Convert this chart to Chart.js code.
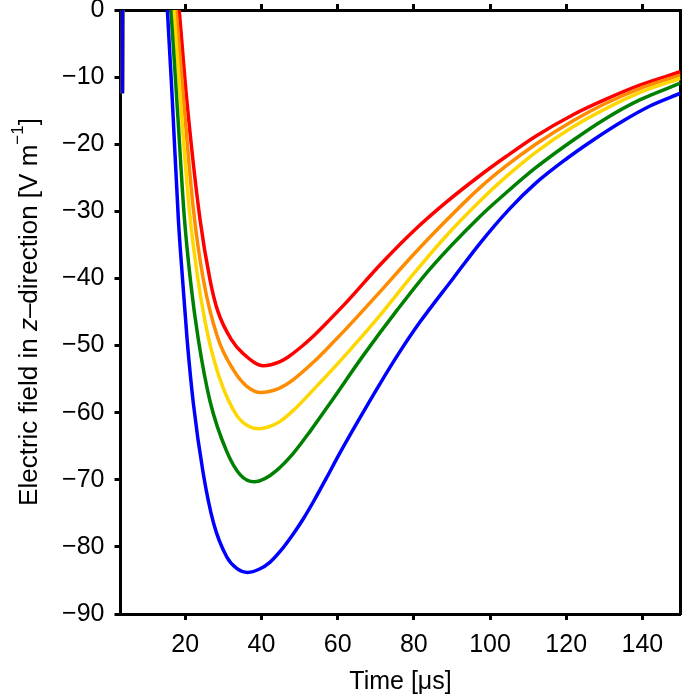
<!DOCTYPE html>
<html>
<head>
<meta charset="utf-8">
<script src="https://cdn.jsdelivr.net/npm/chart.js@4/dist/chart.umd.min.js"></script>
<style>
  html, body { margin: 0; padding: 0; background: #fff; }
  #wrap { width: 682px; height: 700px; }
</style>
</head>
<body>
<div id="wrap"><canvas id="fieldChart"></canvas></div>
<script>
const xTicks = [20, 40, 60, 80, 100, 120, 140];
const yTicks = [0, -10, -20, -30, -40, -50, -60, -70, -80, -90];

// time [us] and field [V/m]
const blueX = [3.5, 3.6, 14.9, 15.3, 16.6, 18.2, 19.3, 20.5, 22.1, 24.7, 27.4, 30.9, 33.5, 36.4, 39.5, 42.2, 45, 48.3, 51, 54, 57, 60.6, 65, 71.1, 76, 81.6, 90.3, 97.3, 105, 112, 120, 127, 135, 142, 150];
const blueY = [-12.4, 6, 3, 0, -13.4, -31.3, -40.2, -49.2, -58.5, -69.0, -76.4, -81.5, -83.2, -83.8, -83.3, -82.3, -80.6, -78.1, -75.8, -72.9, -69.8, -66.0, -61.6, -55.7, -51.2, -46.5, -40.0, -34.8, -29.7, -25.8, -22.2, -19.4, -16.5, -14.3, -12.4];

const greenX = [3.5, 3.6, 15.7, 16.2, 17.9, 19.7, 21.4, 23.4, 26.5, 30.9, 34.5, 38.1, 41, 44, 48.3, 53, 58, 66.7, 75.5, 84.2, 97.3, 104.3, 112, 121.8, 130, 139.3, 150];
const greenY = [-12.4, 6, 3, 0, -14.5, -30.5, -40.5, -49.0, -58.3, -65.8, -69.3, -70.3, -69.8, -68.6, -66.1, -62.6, -58.6, -51.5, -44.8, -38.6, -30.8, -27.2, -23.5, -19.4, -16.3, -13.4, -10.9];

const yellowX = [3.5, 3.6, 16.5, 17.0, 18.8, 21.1, 23.3, 26.0, 29.1, 33.5, 36.5, 39.2, 42, 44.9, 48.3, 53.6, 62.4, 71.1, 79.8, 88.6, 97.3, 104.3, 112, 121.8, 130, 139.3, 150];
const yellowY = [-12.4, 6, 3, 0, -14.0, -30.0, -40.0, -48.6, -55.0, -60.4, -62.0, -62.4, -62.1, -61.3, -59.7, -56.6, -51.2, -45.5, -39.4, -33.6, -28.5, -24.8, -21.2, -17.4, -14.8, -12.3, -10.2];

const orangeX = [3.5, 3.6, 17.1, 17.6, 19.5, 22.1, 24.7, 28.5, 32.6, 36, 39.9, 42, 44.9, 48.3, 53.6, 58, 62.4, 71.1, 79.8, 88.6, 97.3, 104.3, 112, 121.8, 130, 139.3, 150];
const orangeY = [-12.4, 6, 3, 0, -13.0, -29.5, -40.0, -48.8, -53.6, -56.0, -57.0, -56.85, -56.3, -55.1, -52.5, -50.0, -47.4, -42.0, -36.5, -31.3, -26.5, -23.2, -20.0, -16.5, -14.0, -11.7, -9.7];

const redX = [3.5, 3.6, 17.9, 18.4, 20.4, 23.9, 26.5, 28.5, 32.2, 35.2, 40.5, 42.5, 44.9, 47, 50, 53.6, 58, 62.4, 71.1, 79.8, 88.6, 97.3, 104.3, 112, 121.8, 130, 139.3, 150];
const redY = [-12.4, 6, 3, 0, -13.4, -31.3, -40.2, -44.8, -49.2, -51.2, -53.0, -52.85, -52.4, -51.7, -50.4, -48.6, -46.1, -43.5, -38.0, -33.0, -28.6, -24.7, -21.8, -18.8, -15.6, -13.4, -11.2, -9.2];

const FONT = '"Liberation Sans", Arial, Helvetica, sans-serif';

function toPoints(xs, ys) {
    return xs.map((x, i) => ({ x: x, y: ys[i] }));
}

function curve(xs, ys, color) {
    return {
        data: toPoints(xs, ys),
        borderColor: color,
        borderWidth: 3.5,
        pointRadius: 0,
        fill: false,
        cubicInterpolationMode: 'monotone',
        clip: 0
    };
}

// y title needs an italic z and a superscript, so draw it by hand
const yTitle = {
    id: 'yTitle',
    afterDraw(chart) {
        const ctx = chart.ctx;
        const area = chart.chartArea;
        const base = '26px ' + FONT;
        const parts = [
            ['Electric field in ', base, 0],
            ['z', 'italic ' + base, 0],
            ['\u2013direction [V m', base, 0],
            ['\u22121', '17px ' + FONT, -14],
            [']', base, 0]
        ];
        ctx.save();
        let total = 0;
        parts.forEach(p => { ctx.font = p[1]; total += ctx.measureText(p[0]).width; });
        ctx.translate(37, (area.top + area.bottom) / 2);
        ctx.rotate(-Math.PI / 2);
        ctx.fillStyle = '#000';
        ctx.textBaseline = 'alphabetic';
        let x = -total / 2;
        parts.forEach(p => {
            ctx.font = p[1];
            ctx.fillText(p[0], x, p[2]);
            x += ctx.measureText(p[0]).width;
        });
        ctx.restore();
    }
};

Chart.defaults.font.family = FONT;
Chart.defaults.font.size = 25;
Chart.defaults.color = '#000';

const tickGrid = { drawOnChartArea: false, drawTicks: true, tickLength: 6, tickWidth: 3, color: '#000' };
const frame = { display: true, width: 3, color: '#000' };

function noPad(s) {
    s.paddingTop = 0; s.paddingBottom = 0; s.paddingLeft = 0; s.paddingRight = 0;
}

new Chart(document.getElementById('fieldChart'), {
    type: 'line',
    data: {
        datasets: [
            curve(blueX, blueY, '#0000ff'),
            curve(greenX, greenY, '#008000'),
            curve(yellowX, yellowY, '#ffd700'),
            curve(orangeX, orangeY, '#ff8c00'),
            curve(redX, redY, '#ff0000')
        ]
    },
    options: {
        responsive: true,
        maintainAspectRatio: false,
        animation: false,
        layout: { padding: 0 },
        plugins: { legend: { display: false }, tooltip: { enabled: false } },
        scales: {
            x: {
                type: 'linear', position: 'bottom', min: 3, max: 150,
                afterBuildTicks: s => { s.ticks = xTicks.map(v => ({ value: v })); },
                afterFit: s => { s.height = 86; noPad(s); },
                grid: tickGrid, border: frame,
                ticks: { padding: 10, maxRotation: 0, autoSkip: false },
                title: { display: true, text: 'Time [\u03bcs]', padding: { top: 4, bottom: 3 } }
            },
            x2: {
                type: 'linear', position: 'top', min: 3, max: 150,
                afterBuildTicks: s => { s.ticks = xTicks.map(v => ({ value: v })); },
                afterFit: s => { s.height = 10; noPad(s); },
                grid: tickGrid, border: frame,
                ticks: { display: false }
            },
            y: {
                type: 'linear', position: 'left', min: -90, max: 0,
                afterBuildTicks: s => { s.ticks = yTicks.map(v => ({ value: v })); },
                afterFit: s => { s.width = 120.5; noPad(s); },
                grid: tickGrid, border: frame,
                ticks: { padding: 10, callback: v => v < 0 ? '\u2212' + (-v) : String(v) }
            },
            y2: {
                type: 'linear', position: 'right', min: -90, max: 0,
                afterFit: s => { s.width = 1.5; noPad(s); },
                grid: { drawOnChartArea: false, drawTicks: false },
                border: frame,
                ticks: { display: false }
            }
        }
    },
    plugins: [yTitle]
});
</script>
</body>
</html>
